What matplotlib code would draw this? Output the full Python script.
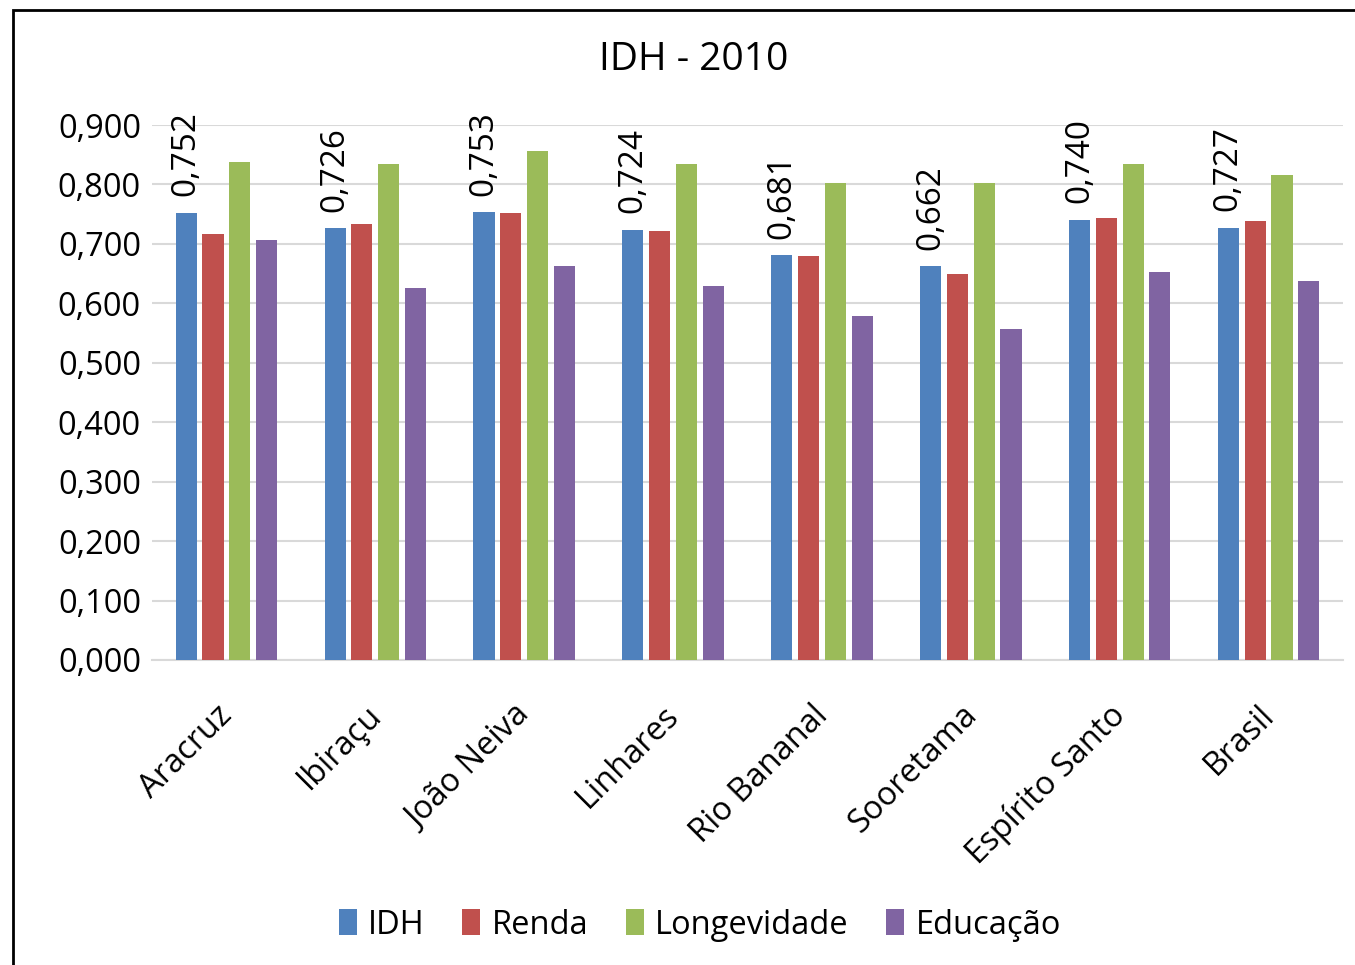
import matplotlib
matplotlib.use("Agg")
import matplotlib.pyplot as plt
from matplotlib.patches import Rectangle
import numpy as np

plt.rcParams['font.family'] = ['Open Sans', 'DejaVu Sans']

categories = ["Aracruz", "Ibiraçu", "João Neiva", "Linhares", "Rio Bananal",
              "Sooretama", "Espírito Santo", "Brasil"]
idh = [0.752, 0.726, 0.753, 0.724, 0.681, 0.662, 0.740, 0.727]
renda = [0.717, 0.734, 0.752, 0.721, 0.680, 0.650, 0.743, 0.739]
longevidade = [0.838, 0.835, 0.857, 0.834, 0.803, 0.803, 0.835, 0.816]
educacao = [0.707, 0.625, 0.662, 0.630, 0.579, 0.556, 0.653, 0.637]
series_names = ["IDH", "Renda", "Longevidade", "Educação"]
colors = ["#4F81BD", "#C0504D", "#9BBB59", "#8064A2"]
yticks = np.arange(0, 0.901, 0.1)

W, H = 1355, 965
fig = plt.figure(figsize=(W / 100, H / 100), dpi=100)
ax = fig.add_axes([152 / W, 1 - 660 / H, (1343 - 152) / W, (660 - 125) / H])

x = np.arange(len(categories))
bw = 0.142
step = 0.18
offsets = (np.arange(4) - 1.5) * step
for vals, name, col, off in zip([idh, renda, longevidade, educacao], series_names, colors, offsets):
    ax.bar(x + off, vals, width=bw, color=col, label=name, zorder=3)

# data labels on the IDH bars
for xi, v in zip(x + offsets[0], idh):
    ax.text(xi, v + 0.028, f"{v:.3f}".replace(".", ","), rotation=90,
            ha="center", va="bottom", fontsize=24)

ax.set_xlim(-0.5, len(categories) - 0.5)
ax.set_ylim(0, 0.9)
ax.set_yticks(yticks)
ax.set_yticklabels([f"{t:.3f}".replace(".", ",") for t in yticks], fontsize=23.5)
# rotated labels sit a little left of the group centre, as in the original
ax.set_xticks(x - 0.07)
ax.set_xticklabels(categories, rotation=45, ha="right", rotation_mode="anchor", fontsize=23.5)
ax.tick_params(axis="both", length=0)
ax.tick_params(axis="x", pad=28)
ax.tick_params(axis="y", pad=8)
ax.grid(axis="y", color="#d9d9d9", linewidth=1.5, zorder=0)
for s in ["top", "right", "left"]:
    ax.spines[s].set_visible(False)
ax.spines["bottom"].set_color("#d9d9d9")
ax.spines["bottom"].set_linewidth(1.5)

fig.text(694 / W, 1 - 60 / H, "IDH - 2010", ha="center", va="center", fontsize=28)

fig.legend(loc="center", bbox_to_anchor=(700 / W, 1 - 925 / H), ncol=4, frameon=False,
           fontsize=23.5, handlelength=0.55, handleheight=0.85, handletextpad=0.35, columnspacing=1.15)

# outer frame (chart area partially cropped on the right and bottom)
fig.patches.append(Rectangle((13 / W, -0.05), 1.1, 1 - 10 / H + 0.05, transform=fig.transFigure,
                             fill=False, edgecolor="black", linewidth=2))

fig.savefig("out.png", dpi=100)
